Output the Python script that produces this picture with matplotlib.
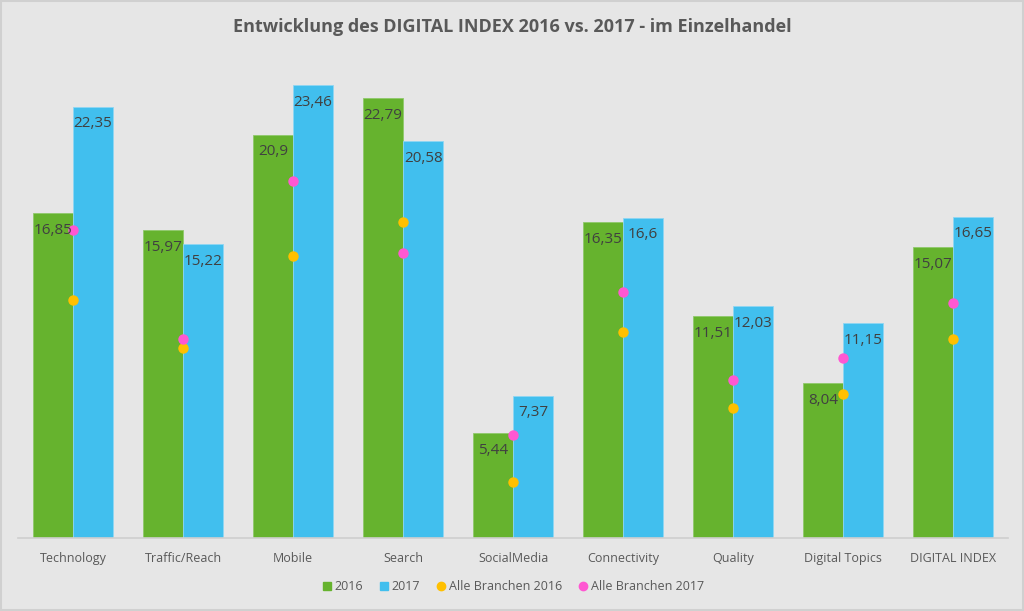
import matplotlib.pyplot as plt
import numpy as np
from matplotlib.lines import Line2D

plt.rcParams['font.family'] = ['Open Sans', 'DejaVu Sans']

categories = ["Technology", "Traffic/Reach", "Mobile", "Search", "SocialMedia",
              "Connectivity", "Quality", "Digital Topics", "DIGITAL INDEX"]
values_2016 = [16.85, 15.97, 20.9, 22.79, 5.44, 16.35, 11.51, 8.04, 15.07]
values_2017 = [22.35, 15.22, 23.46, 20.58, 7.37, 16.6, 12.03, 11.15, 16.65]
labels_2016 = ["16,85", "15,97", "20,9", "22,79", "5,44", "16,35", "11,51", "8,04", "15,07"]
labels_2017 = ["22,35", "15,22", "23,46", "20,58", "7,37", "16,6", "12,03", "11,15", "16,65"]
alle_2016 = [12.34, 9.85, 14.62, 16.38, 2.90, 10.68, 6.74, 7.47, 10.32]
alle_2017 = [15.97, 10.32, 18.51, 14.77, 5.34, 12.75, 8.19, 9.33, 12.18]

GREEN = "#66B32E"
BLUE = "#41BFEE"
ORANGE = "#FFC000"
MAGENTA = "#FF57D2"
BG = "#E6E6E6"
TEXT = "#404040"

fig = plt.figure(figsize=(10.24, 6.11), dpi=100, facecolor=BG)
ax = fig.add_axes([0.0176, 0.1195, 0.967, 0.758])
ax.set_facecolor(BG)

x = np.arange(len(categories))
w = 0.3636
ax.bar(x - w / 2, values_2016, w, color=GREEN, edgecolor="#8fc96a", linewidth=0.6, zorder=2)
ax.bar(x + w / 2, values_2017, w, color=BLUE, edgecolor="#8fd6f3", linewidth=0.6, zorder=2)

# data labels just under the bar tops
for i in range(len(categories)):
    ax.annotate(labels_2016[i], (x[i] - w / 2, values_2016[i]), xytext=(0, -7),
                textcoords="offset points", ha="center", va="top", fontsize=11, color=TEXT, zorder=4)
    ax.annotate(labels_2017[i], (x[i] + w / 2, values_2017[i]), xytext=(0, -7),
                textcoords="offset points", ha="center", va="top", fontsize=11, color=TEXT, zorder=4)

ax.plot(x, alle_2016, "o", color=ORANGE, markersize=6.5, linestyle="none", zorder=3)
ax.plot(x, alle_2017, "o", color=MAGENTA, markersize=6.5, linestyle="none", zorder=3)

ax.set_xlim(-0.5, len(categories) - 0.5)
ax.set_ylim(0, 24)
ax.set_yticks([])
ax.set_xticks(x)
ax.set_xticklabels(categories, fontsize=9, color="#595959")
ax.tick_params(axis="x", length=0, pad=10)
for s in ["top", "right", "left"]:
    ax.spines[s].set_visible(False)
ax.spines["bottom"].set_color("#CFCFCF")
ax.spines["bottom"].set_linewidth(1.2)

fig.text(0.5, 0.955, "Entwicklung des DIGITAL INDEX 2016 vs. 2017 - im Einzelhandel",
         ha="center", va="center", fontsize=13, fontweight="bold", color="#595959")

handles = [
    Line2D([], [], marker="s", color=GREEN, linestyle="none", markersize=6),
    Line2D([], [], marker="s", color=BLUE, linestyle="none", markersize=6),
    Line2D([], [], marker="o", color=ORANGE, linestyle="none", markersize=6),
    Line2D([], [], marker="o", color=MAGENTA, linestyle="none", markersize=6),
]
fig.legend(handles, ["2016", "2017", "Alle Branchen 2016", "Alle Branchen 2017"],
           loc="center", bbox_to_anchor=(0.5, 0.04), ncol=4, frameon=False,
           fontsize=9, labelcolor="#595959", handletextpad=0.1, columnspacing=1.2,
           handlelength=1.0)

# thin border around the picture
fig.patches.append(plt.Rectangle((0.001, 0.001), 0.998, 0.998, transform=fig.transFigure,
                                 fill=False, edgecolor="#D0D0D0", linewidth=1.5))

fig.savefig("out.png", dpi=100, facecolor=BG)
